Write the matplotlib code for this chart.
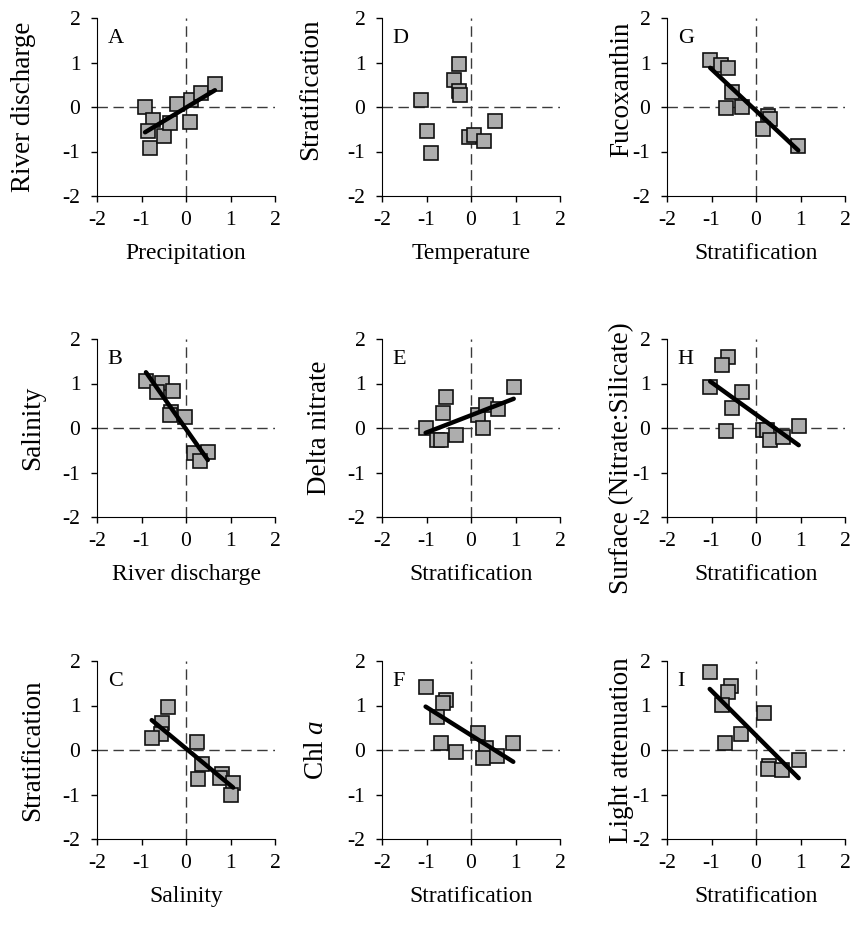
import numpy as np
import matplotlib
matplotlib.use("Agg")
import matplotlib.pyplot as plt

plt.rcParams["font.family"] = ["Liberation Serif", "DejaVu Serif"]
plt.rcParams["axes.unicode_minus"] = False
plt.rcParams["mathtext.fontset"] = "custom"
plt.rcParams["mathtext.rm"] = "Liberation Serif"
plt.rcParams["mathtext.it"] = "Liberation Serif:italic"

# standardised anomalies, one pair of arrays per panel
a_x = [-0.92, -0.75, -0.86, -0.81, -0.50, -0.35, -0.20, 0.08, 0.11, 0.34, 0.65]
a_y = [0.00, -0.30, -0.55, -0.92, -0.66, -0.37, 0.07, -0.34, 0.15, 0.32, 0.51]

b_x = [-0.90, -0.54, -0.66, -0.30, -0.34, -0.35, -0.02, 0.17, 0.49, 0.32]
b_y = [1.06, 1.02, 0.80, 0.84, 0.37, 0.30, 0.25, -0.57, -0.54, -0.75]

c_x = [-0.41, -0.55, -0.56, -0.77, 0.25, 0.36, 0.28, 0.82, 0.77, 1.06, 1.02]
c_y = [0.96, 0.60, 0.35, 0.28, 0.19, -0.31, -0.66, -0.54, -0.62, -0.75, -1.01]

d_x = [-0.26, -0.39, -0.28, -0.24, -1.12, -1.00, -0.89, -0.05, 0.06, 0.30, 0.55]
d_y = [0.96, 0.60, 0.35, 0.28, 0.15, -0.55, -1.04, -0.68, -0.62, -0.77, -0.32]

e_x = [-1.02, -0.77, -0.68, -0.62, -0.56, -0.33, 0.16, 0.34, 0.28, 0.61, 0.96]
e_y = [-0.01, -0.27, -0.28, 0.33, 0.70, -0.15, 0.30, 0.52, 0.01, 0.43, 0.93]

f_x = [-1.02, -0.56, -0.62, -0.77, -0.68, -0.33, 0.16, 0.34, 0.27, 0.58, 0.95]
f_y = [1.41, 1.13, 1.06, 0.74, 0.16, -0.04, 0.39, 0.04, -0.19, -0.13, 0.15]

g_x = [-1.03, -0.79, -0.62, -0.55, -0.68, -0.32, 0.26, 0.32, 0.16, 0.95]
g_y = [1.05, 0.94, 0.88, 0.33, -0.02, -0.01, -0.21, -0.28, -0.50, -0.87]

h_x = [-0.63, -0.77, -1.03, -0.32, -0.55, -0.68, 0.15, 0.25, 0.32, 0.60, 0.96]
h_y = [1.59, 1.41, 0.92, 0.81, 0.44, -0.07, -0.04, -0.05, -0.26, -0.21, 0.04]

i_x = [-1.04, -0.56, -0.62, -0.77, 0.17, -0.34, -0.69, 0.30, 0.26, 0.59, 0.96]
i_y = [1.75, 1.43, 1.30, 1.01, 0.84, 0.37, 0.15, -0.36, -0.43, -0.46, -0.23]

# letter, x data, y data, x label, y label, draw regression line
panels = [
    ("A", a_x, a_y, "Precipitation", "River discharge", True),
    ("B", b_x, b_y, "River discharge", "Salinity", True),
    ("C", c_x, c_y, "Salinity", "Stratification", True),
    ("D", d_x, d_y, "Temperature", "Stratification", False),
    ("E", e_x, e_y, "Stratification", "Delta nitrate", True),
    ("F", f_x, f_y, "Stratification", "Chl $\\mathit{a}$", True),
    ("G", g_x, g_y, "Stratification", "Fucoxanthin", True),
    ("H", h_x, h_y, "Stratification", "Surface (Nitrate:Silicate)", True),
    ("I", i_x, i_y, "Stratification", "Light attenuation", True),
]
# y-label anchor (axes fraction; x is the label's right edge)
ylab_pos = [(-0.34, 0.5), (-0.29, 0.5), (-0.29, 0.5),
            (-0.33, 0.6), (-0.28, 0.5), (-0.30, 0.5),
            (-0.185, 0.6), (-0.185, 0.33), (-0.185, 0.5)]

W, H = 851, 936
lefts = [97, 382, 667]
tops = [18, 339, 661]
size = 178
ticks = [-2, -1, 0, 1, 2]

fig = plt.figure(figsize=(W / 100, H / 100), dpi=100)

for k, (letter, xs, ys, xlab, ylab, fit) in enumerate(panels):
    col, row = divmod(k, 3)
    ax = fig.add_axes([lefts[col] / W, 1 - (tops[row] + size) / H, size / W, size / H])
    ax.set_xlim(-2, 2)
    ax.set_ylim(-2, 2)
    ax.axhline(0, color="#3a3a3a", lw=1, dashes=(7.5, 4), zorder=1)
    ax.axvline(0, color="#3a3a3a", lw=1, dashes=(7.5, 4), zorder=1)
    ax.plot(xs, ys, "s", ms=9.5, mfc="#adadad", mec="#111111", mew=1.2, zorder=2)
    if fit:
        slope, icpt = np.polyfit(xs, ys, 1)
        xr = np.array([min(xs), max(xs)])
        ax.plot(xr, slope * xr + icpt, color="black", lw=3.2, solid_capstyle="round", zorder=3)
    for s in ("top", "right"):
        ax.spines[s].set_visible(False)
    ax.set_xticks(ticks)
    ax.set_yticks(ticks)
    ax.tick_params(direction="out", length=4, width=1, labelsize=15.5)
    ax.tick_params(axis="x", pad=7)
    ax.tick_params(axis="y", pad=8)
    ax.set_xlabel(xlab, fontsize=17, labelpad=9)
    ax.set_ylabel(ylab, fontsize=19.5)
    ax.yaxis.set_label_coords(*ylab_pos[k])
    ax.text(0.06, 0.94, letter, transform=ax.transAxes, fontsize=16, ha="left", va="top")

fig.savefig("out.png", dpi=100)
